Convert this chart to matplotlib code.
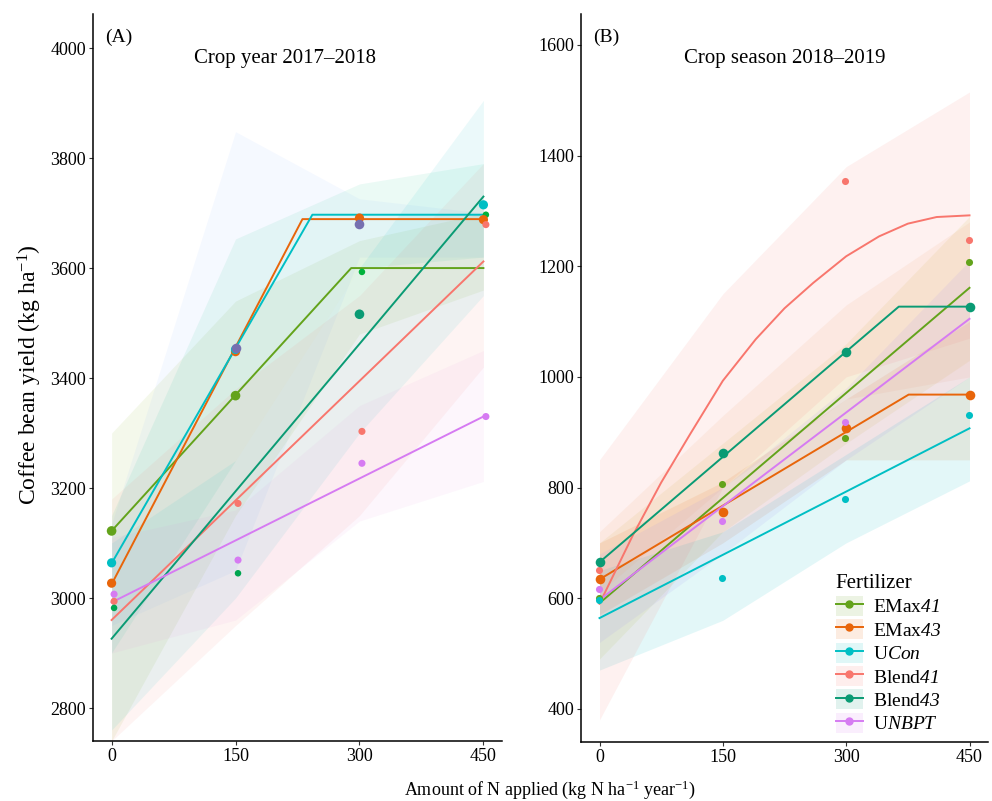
import numpy as np
import matplotlib.pyplot as plt
from matplotlib.lines import Line2D
from matplotlib.patches import Patch
from matplotlib.legend_handler import HandlerTuple

# ------------------------------------------------------------------ #
#  Data
# ------------------------------------------------------------------ #

N_RATES = [0, 150, 300, 450]
FERTILIZERS = ["EMax41", "EMax43", "UCon", "Blend41", "Blend43", "UNBPT"]
# \mathbf is mapped to the italic face below so that digits come out italic
LEGEND_LABELS = [r"EMax$\mathbf{41}$", r"EMax$\mathbf{43}$", r"U$\mathbf{Con}$",
                 r"Blend$\mathbf{41}$", r"Blend$\mathbf{43}$", r"U$\mathbf{NBPT}$"]

# panel A: fitted lines (knots)
fit_a_x = {
    "EMax41": [0, 290, 450],
    "EMax43": [0, 231, 450],
    "UCon": [0, 243, 450],
    "Blend41": [0, 450],
    "Blend43": [0, 450],
    "UNBPT": [0, 450],
}
fit_a_y = {
    "EMax41": [3122, 3600, 3600],
    "EMax43": [3025, 3689, 3689],
    "UCon": [3063, 3697, 3697],
    "Blend41": [2960, 3612],
    "Blend43": [2926, 3730],
    "UNBPT": [2992, 3330],
}
# panel A: observed means at 0/150/300/450 (nan = hidden)
obs_a = {
    "EMax41": [3122, 3368, 3593, 3697],
    "EMax43": [3027, 3448, 3691, 3688],
    "UCon": [3064, 3452, np.nan, 3715],
    "Blend41": [2994, 3172, 3303, 3679],
    "Blend43": [2982, 3045, 3516, np.nan],
    "UNBPT": [3007, 3069, 3245, 3330],
}
extra_a_x = [150, 300]
extra_a_y = [3455, 3680]
# panel A: confidence ribbons at 0/150/300/450
band_a_lo = {
    "EMax41": [2740, 3150, 3480, 3560],
    "EMax43": [2900, 3250, 3600, 3620],
    "UCon": [2950, 3050, 3620, 3620],
    "Blend41": [2740, 2950, 3150, 3420],
    "Blend43": [2760, 3000, 3300, 3550],
    "UNBPT": [2900, 2960, 3140, 3212],
}
band_a_hi = {
    "EMax41": [3300, 3540, 3650, 3700],
    "EMax43": [3150, 3653, 3753, 3790],
    "UCon": [3135, 3848, 3726, 3700],
    "Blend41": [3180, 3380, 3550, 3790],
    "Blend43": [3100, 3250, 3600, 3905],
    "UNBPT": [3110, 3160, 3350, 3450],
}

# panel B: fitted lines (knots)
fit_b_x = {
    "EMax41": [0, 450],
    "EMax43": [0, 376, 450],
    "UCon": [0, 450],
    "Blend41": [0, 40, 75, 110, 150, 190, 225, 260, 300, 340, 375, 410, 450],
    "Blend43": [0, 364, 450],
    "UNBPT": [0, 450],
}
fit_b_y = {
    "EMax41": [591, 1161],
    "EMax43": [634, 968, 968],
    "UCon": [564, 907],
    "Blend41": [590, 712, 809, 896, 993, 1068, 1124, 1170, 1218, 1254,
                1277, 1289, 1292],
    "Blend43": [665, 1127, 1127],
    "UNBPT": [597, 1105],
}
obs_b = {
    "EMax41": [601, 806, 890, 1207],
    "EMax43": [635, 755, 907, 968],
    "UCon": [597, 636, 779, 931],
    "Blend41": [651, np.nan, 1354, 1248],
    "Blend43": [665, 862, 1045, 1127],
    "UNBPT": [617, 740, 918, np.nan],
}
band_b_lo = {
    "EMax41": [490, 720, 880, 1030],
    "EMax43": [570, 700, 850, 850],
    "UCon": [470, 560, 700, 812],
    "Blend41": [380, 800, 1000, 1070],
    "Blend43": [610, 800, 960, 1000],
    "UNBPT": [520, 680, 850, 1000],
}
band_b_hi = {
    "EMax41": [700, 880, 1060, 1290],
    "EMax43": [700, 810, 960, 1100],
    "UCon": [650, 720, 860, 1000],
    "Blend41": [850, 1150, 1380, 1515],
    "Blend43": [720, 930, 1130, 1280],
    "UNBPT": [680, 800, 980, 1210],
}

# ------------------------------------------------------------------ #
#  Style
# ------------------------------------------------------------------ #

COLORS = {
    "EMax41": "#63A31B",
    "EMax43": "#E8650A",
    "UCon": "#00BFC4",
    "Blend41": "#F8766D",
    "Blend43": "#0A9B74",
    "UNBPT": "#D67BF2",
}
BAND_COLORS = {
    "EMax41": "#7CAE00",
    "EMax43": "#00C08B",
    "UCon": "#619CFF",
    "Blend41": "#F8766D",
    "Blend43": "#00BFC4",
    "UNBPT": "#E070D8",
}
BAND_COLORS_B = {
    "EMax41": "#C8C830",
    "EMax43": "#E8650A",
    "UCon": "#00BFC4",
    "Blend41": "#F8766D",
    "Blend43": "#F0A070",
    "UNBPT": "#9C8CF5",
}
BIG = {"EMax43", "UCon"}
BIG_B = {"EMax43", "Blend43"}
BRIGHT_GREEN = "#00B23C"
SLATE = "#7670B0"

plt.rcParams["font.family"] = ["Liberation Serif", "DejaVu Serif"]
plt.rcParams["mathtext.fontset"] = "custom"
plt.rcParams["mathtext.rm"] = "Liberation Serif"
plt.rcParams["mathtext.it"] = "Liberation Serif:italic"
plt.rcParams["mathtext.bf"] = "Liberation Serif:italic"

fig = plt.figure(figsize=(9.92, 8.01), dpi=100)
ax_a = fig.add_axes([93 / 992, 60 / 801, 409 / 992, 727 / 801])
ax_b = fig.add_axes([581 / 992, 59 / 801, 407 / 992, 728 / 801])


def style_axis(ax, ylim, yticks):
    ax.set_xlim(-22.5, 472.5)
    ax.set_ylim(*ylim)
    ax.set_xticks(N_RATES)
    ax.set_yticks(yticks)
    for side in ("top", "right"):
        ax.spines[side].set_visible(False)
    for side in ("left", "bottom"):
        ax.spines[side].set_linewidth(1.1)
    ax.tick_params(direction="out", length=3, width=0.8, labelsize=13,
                   colors="#333333", labelcolor="black", pad=2)


# --- panel A -------------------------------------------------------
for f in FERTILIZERS:
    alpha = 0.06 if f in ("UCon", "UNBPT") else 0.08
    ax_a.fill_between(N_RATES, band_a_lo[f], band_a_hi[f],
                      color=BAND_COLORS[f], alpha=alpha, lw=0)
for f in FERTILIZERS:
    ax_a.plot(fit_a_x[f], fit_a_y[f], color=COLORS[f], lw=1.4, zorder=3)
for f in FERTILIZERS:
    cols = [COLORS[f]] * 4
    sizes = [44 if f in BIG else 26] * 4
    if f == "EMax41":
        sizes = [48, 48, 22, 22]
        cols = [COLORS[f], COLORS[f], BRIGHT_GREEN, BRIGHT_GREEN]
    if f == "Blend43":
        sizes = [22, 22, 48, 48]
        cols = ["#00A550", "#00A550", COLORS[f], COLORS[f]]
    xs = np.array(N_RATES) + np.where(np.array(sizes) < 30, 3, 0)
    ax_a.scatter(xs, obs_a[f], s=sizes, c=cols, lw=0, zorder=4)
ax_a.scatter(extra_a_x, extra_a_y, s=48, c=SLATE, lw=0, zorder=5)
style_axis(ax_a, (2740, 4062), [2800, 3000, 3200, 3400, 3600, 3800, 4000])
ax_a.text(0.03, 0.98, "(A)", transform=ax_a.transAxes, fontsize=14,
          va="top", ha="left")
ax_a.text(0.47, 0.952, "Crop year 2017\u20132018", transform=ax_a.transAxes,
          fontsize=15, va="top", ha="center")

# --- panel B -------------------------------------------------------
for f in FERTILIZERS:
    alpha = 0.10 if f == "Blend41" else 0.11
    ax_b.fill_between(N_RATES, band_b_lo[f], band_b_hi[f],
                      color=BAND_COLORS_B[f], alpha=alpha, lw=0)
for f in FERTILIZERS:
    ax_b.plot(fit_b_x[f], fit_b_y[f], color=COLORS[f], lw=1.4, zorder=3)
for f in FERTILIZERS:
    size = 48 if f in BIG_B else 26
    xs = np.array(N_RATES) + (0 if f in BIG_B else -1)
    ax_b.scatter(xs, obs_b[f], s=size, c=COLORS[f], lw=0, zorder=4)
style_axis(ax_b, (340, 1656), [400, 600, 800, 1000, 1200, 1400, 1600])
ax_b.text(0.03, 0.98, "(B)", transform=ax_b.transAxes, fontsize=14,
          va="top", ha="left")
ax_b.text(0.5, 0.952, "Crop season 2018\u20132019", transform=ax_b.transAxes,
          fontsize=15, va="top", ha="center")

# --- shared labels ---------------------------------------------------
fig.text(30 / 992, 1 - 375 / 801, r"Coffee bean yield (kg ha$^{-1}$)",
         rotation=90, va="center", ha="center", fontsize=17)
fig.text(550 / 992, 1 - 790 / 801,
         r"Amount of N applied (kg N ha$^{-1}$ year$^{-1}$)",
         va="center", ha="center", fontsize=13)

# --- legend ----------------------------------------------------------
handles = []
for f in FERTILIZERS:
    box = Patch(facecolor=COLORS[f], alpha=0.12, edgecolor="none")
    ln = Line2D([], [], color=COLORS[f], lw=1.4, marker="o", markersize=5)
    handles.append((box, ln))
leg = fig.legend(handles, LEGEND_LABELS, title="Fertilizer",
                 loc="upper left", bbox_to_anchor=(828 / 992, 1 - 566 / 801),
                 frameon=False, fontsize=14, title_fontsize=15,
                 handler_map={tuple: HandlerTuple(ndivide=1)},
                 handlelength=1.4, handleheight=1.2, labelspacing=0.15,
                 handletextpad=0.5, borderaxespad=0)
leg._legend_box.align = "left"

fig.savefig("out.png", dpi=100)
